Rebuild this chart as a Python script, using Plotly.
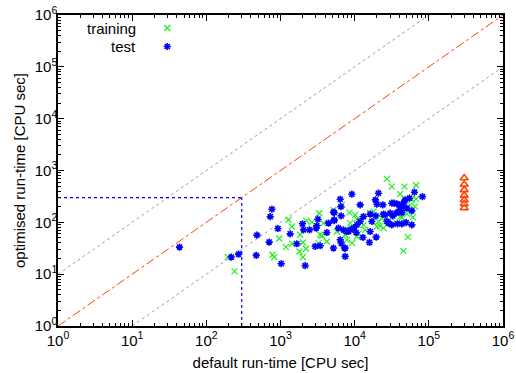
import plotly.graph_objects as go

# ---- data ----
test_x = [43.5, 217, 272, 481, 471, 704, 766, 727, 923, 1021, 1351, 1663, 2153, 1978, 2042, 2460,
          2937, 3428, 3097, 3192, 3027, 4220, 4436, 5176, 5296, 5176, 6380, 6516, 6050, 6380, 7285,
          7450, 9170, 7065, 7850, 8690, 9640, 10710, 11860, 13140, 11860, 10480, 12900, 15820, 19500,
          19060, 19910, 20940, 23990, 16180, 19310, 24440, 28560, 31700, 34050, 37050, 40170, 43270,
          45480, 36250, 38910, 41040, 43270, 50550, 47960, 54760, 63980, 82030, 59020, 37740, 43270,
          49430, 59020, 30080, 31700, 27170, 32730, 7450, 6577, 8250, 5296, 5296, 6577, 16180, 17060,
          25780]
test_y = [33.3, 21.4, 24.4, 56.7, 23, 41.6, 179, 129, 76, 15.9, 60, 38.6, 14.6, 93.6, 71.7, 71.7,
          34.3, 35.3, 85.7, 115, 77.3, 63.6, 96.5, 157, 108, 31.9, 279, 201, 77.3, 46, 31.9,
          22, 349, 71.7, 66.5, 71.7, 77.3, 89.5, 104, 129, 217, 63.6, 51, 40.9, 51.9,
          271, 224, 365, 217, 144, 133, 144, 96.5, 234, 234, 227, 217, 201,
          234, 150, 161, 174, 154, 188, 271, 292, 381, 313, 166, 93.6, 93.6,
          99, 89.5, 150, 89.5, 104, 133, 31.9, 39.8, 66.5, 154, 112, 133, 66.5, 104,
          139]

train_x = [195, 240, 780, 822, 960, 1182, 1282, 1425, 1425, 1803, 2004, 1843, 2004, 2220, 2650, 3324,
           3614, 3797, 5176, 5754, 6720, 8510, 8690, 9170, 10160, 10710, 11250, 13860, 13140, 16180,
           17920, 20940, 22070, 23270, 24440, 27170, 31700, 41040, 46900, 67450, 52120, 45480, 59020,
           60850, 65330, 55980, 50550, 43270, 37050, 28560, 4220, 3251, 7450, 7850, 2200, 3428, 9250,
           10710, 19910, 67450, 41040]
train_y = [21.4, 11.3, 23.7, 21.4, 48.8, 33.3, 112, 83, 38.6, 27.4, 21.4, 57.5, 40.9, 107, 101, 150,
           55, 96.5, 174, 66.5, 217, 154, 96.5, 77.3, 139, 115, 60, 71.7, 89.5, 150,
           161, 104, 85.7, 120, 77.3, 687, 488, 349, 488, 519, 51.9, 27.9, 279,
           126, 201, 217, 146, 126, 96.5, 104, 42.7, 39.8, 57.5, 46, 30.9, 57.5, 39.8,
           53.3, 83, 283, 129]

tri_x = [300000, 300000, 300000, 300000, 300000, 300000, 300000]
tri_y = [718, 538, 422, 331, 271, 227, 190]

tick_vals = [1, 10, 100, 1000, 10000, 100000, 1000000]
tick_text = ["10<sup>0</sup>", "10<sup>1</sup>", "10<sup>2</sup>", "10<sup>3</sup>",
             "10<sup>4</sup>", "10<sup>5</sup>", "10<sup>6</sup>"]

diag_x = [1, 1e6]
diag_y = [1, 1e6]
upper_x = [1, 1e5]
upper_y = [10, 1e6]
lower_x = [10, 1e6]
lower_y = [1, 1e5]
cut = 300
vline_x = [cut, cut]
vline_y = [1, cut]
hline_x = [1, cut]
hline_y = [cut, cut]

GREEN = "#22ee22"
BLUE = "#0000ff"
ORANGE = "#ff4500"
GREY = "#a0a0a0"
FONT = "Liberation Sans, Arial, Helvetica, sans-serif"

fig = go.Figure()
fig.add_trace(go.Scatter(x=upper_x, y=upper_y, mode="lines",
                         line=dict(color=GREY, width=1, dash="dot"), hoverinfo="skip"))
fig.add_trace(go.Scatter(x=lower_x, y=lower_y, mode="lines",
                         line=dict(color=GREY, width=1, dash="dot"), hoverinfo="skip"))
fig.add_trace(go.Scatter(x=diag_x, y=diag_y, mode="lines",
                         line=dict(color=ORANGE, width=1, dash="dashdot"), hoverinfo="skip"))
fig.add_trace(go.Scatter(x=vline_x, y=vline_y, mode="lines",
                         line=dict(color=BLUE, width=1.2, dash="dot"), hoverinfo="skip"))
fig.add_trace(go.Scatter(x=hline_x, y=hline_y, mode="lines",
                         line=dict(color=BLUE, width=1.2, dash="dot"), hoverinfo="skip"))
fig.add_trace(go.Scatter(x=train_x, y=train_y, mode="markers", name="training",
                         marker=dict(symbol="x-thin-open", size=6, color=GREEN,
                                     line=dict(color=GREEN, width=1.2))))
fig.add_trace(go.Scatter(x=test_x, y=test_y, mode="markers", name="test",
                         marker=dict(symbol="asterisk-open", size=6, color=BLUE,
                                     line=dict(color=BLUE, width=1.6))))
fig.add_trace(go.Scatter(x=tri_x, y=tri_y, mode="markers", name="other",
                         marker=dict(symbol="triangle-up-open", size=7, color=ORANGE,
                                     line=dict(color=ORANGE, width=1.6))))

# legend drawn gnuplot-style (text right-aligned, sample to the right)
leg_x = [109.3, 109.3]
leg_y = [298, 279.5]
fig.add_trace(go.Scatter(x=[leg_x[0]], y=[leg_y[0]], xaxis="x2", yaxis="y2", mode="markers",
                         marker=dict(symbol="x-thin-open", size=6, color=GREEN,
                                     line=dict(color=GREEN, width=1.2)), hoverinfo="skip"))
fig.add_trace(go.Scatter(x=[leg_x[1]], y=[leg_y[1]], xaxis="x2", yaxis="y2", mode="markers",
                         marker=dict(symbol="asterisk-open", size=6, color=BLUE,
                                     line=dict(color=BLUE, width=1.6)), hoverinfo="skip"))
for txt, yy in [("training", leg_y[0]), ("test", leg_y[1])]:
    fig.add_annotation(x=79.5, y=yy, xref="x2", yref="y2", text=txt, showarrow=False,
                       xanchor="right", yanchor="middle", font=dict(size=15, color="#000", family=FONT))

axis_common = dict(
    type="log", tickvals=tick_vals, ticktext=tick_text, showgrid=False, zeroline=False,
    showline=True, linecolor="black", linewidth=1.5, mirror="allticks",
    ticks="inside", ticklen=6, tickwidth=1, tickcolor="black",
    minor=dict(ticks="inside", ticklen=3, tickcolor="black", dtick="D1", showgrid=False),
    tickfont=dict(size=15, color="black", family=FONT), automargin=False,
)
fig.update_layout(
    width=516, height=373,
    margin=dict(l=58, r=13, t=15, b=47),
    paper_bgcolor="white", plot_bgcolor="white",
    showlegend=False,
    font=dict(family=FONT, size=15, color="black"),
    xaxis=dict(range=[0, 6], title=dict(text="default run-time [CPU sec]", standoff=10,
                                         font=dict(size=15)), **axis_common),
    yaxis=dict(range=[0, 6], ticklabelstandoff=-4,
               title=dict(text="optimised run-time [CPU sec]", standoff=5,
                          font=dict(size=15)), **axis_common),
    xaxis2=dict(range=[0, 445], overlaying="x", visible=False, fixedrange=True),
    yaxis2=dict(range=[0, 311], overlaying="y", visible=False, fixedrange=True),
)

fig.write_html("out.html", config={"displayModeBar": False},
               post_script="document.body.style.margin='0';")
